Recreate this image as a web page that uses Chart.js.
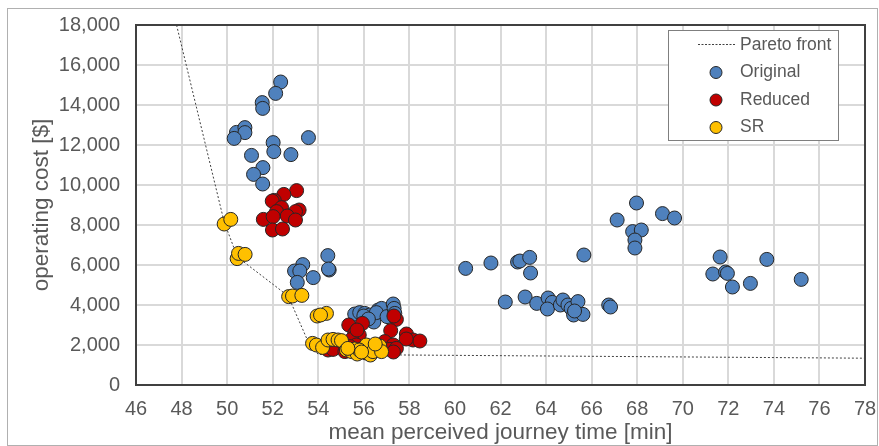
<!DOCTYPE html>
<html>
<head>
<meta charset="utf-8">
<script src="https://cdn.jsdelivr.net/npm/chart.js@4/dist/chart.umd.min.js"></script>
<style>
  body { margin: 0; background: #fff; }
  #wrap { width: 879px; height: 446px; }
</style>
</head>
<body>
<div id="wrap"><canvas id="myChart" width="879" height="446"></canvas></div>
<script>
// journey time [min], operating cost [$]
const originalPts = [
  [52.35,15150],[52.13,14580],[51.54,14120],[51.56,13830],[50.41,12630],[50.78,12870],[50.78,12620],
  [50.31,12330],[52.02,12120],[52.05,11670],[53.57,12370],[52.8,11520],[51.07,11480],[51.57,10870],
  [51.16,10530],[51.56,10050],
  [54.42,6470],[54.48,5750],[54.45,5800],[53.32,6020],[52.96,5700],[53.19,5700],[53.78,5370],[53.08,5130],
  [55.6,3550],[55.82,3620],[56.04,3580],[56.26,3500],[56.44,3150],[56.63,3750],[56.78,3830],[56.55,3620],
  [57.02,3420],[57.29,4050],[57.33,3830],[57.36,3580],[56.0,3450],[56.2,3300],
  [60.47,5830],[61.58,6100],[62.75,6150],[62.85,6200],[63.28,6380],[63.32,5600],[65.66,6500],
  [67.97,9100],[67.12,8250],[69.11,8570],[69.64,8350],[67.8,7670],[68.18,7750],[67.9,7250],[67.9,6850],
  [71.64,6400],[71.32,5550],[71.88,5650],[71.96,5580],[72.18,4900],[72.97,5080],[73.69,6280],[75.2,5280],
  [62.21,4150],[63.08,4400],[63.59,4080],[64.09,4350],[64.27,4130],[64.06,3800],[64.63,4000],[64.74,4250],
  [64.96,4000],[65.1,3830],[65.4,4170],[65.21,3500],[65.62,3530],[65.25,3700],[66.75,4000],[66.83,3900]
];
const reducedPts = [
  [53.05,9720],[52.49,9530],[52.07,9230],[51.98,9200],[52.39,8870],[52.17,8670],[53.16,8750],
  [53.0,8670],[52.64,8450],[53.0,8250],[51.59,8280],[52.02,8420],[51.99,7750],[52.43,7800],
  [55.34,3000],[55.94,3080],[57.43,3280],[57.32,3450],[57.18,2720],[57.87,2550],[58.16,2250],
  [58.46,2200],[57.86,2300],[55.6,2580],[55.8,2500],[55.46,2280],[55.67,2000],[56.92,2170],
  [57.29,2000],[57.14,1780],[57.43,1830],[54.43,1750],[54.65,1780],[56.7,1750],[56.48,1920],
  [55.39,1920],[55.17,1670],[55.7,2750],[57.3,1650],[56.1,1600]
];
const srPts = [
  [49.87,8050],[50.16,8280],[50.44,6320],[50.5,6580],[50.79,6530],[52.7,4420],[52.87,4450],
  [53.28,4480],[53.95,3450],[54.36,3580],[54.1,3500],
  [53.75,2080],[53.92,2000],[54.19,1880],[54.43,2250],[54.65,2280],[54.87,2250],[55.02,2220],
  [55.24,1750],[55.46,1670],[55.6,1800],[55.71,1550],[55.97,1830],[56.11,2000],[56.29,1500],
  [56.4,1670],[56.7,1950],[56.78,1670],[55.8,1750],[55.3,1830],[56.5,2050],[55.9,1650]
];
const paretoPts = [
  [47.78,18000],[49.87,8150],[50.45,6400],[50.85,6050],[52.68,4450],[53.6,2050],[54.0,1530],[78,1340]
];
const xTicks = { min: 46, max: 78, step: 2 };
const yTicks = { min: 0, max: 18000, step: 2000 };

const toXY = pts => pts.map(p => ({ x: p[0], y: p[1] }));
const grey = '#595959';
const fontFamily = '"Liberation Sans", Arial, sans-serif';

// frame round the plot + thin border round the picture
const framePlugin = {
  id: 'frame',
  beforeDatasetsDraw(chart) {
    const { ctx, chartArea: a } = chart;
    ctx.save();
    ctx.strokeStyle = '#404040';
    ctx.lineWidth = 2;
    ctx.strokeRect(a.left, a.top, a.right - a.left, a.bottom - a.top);
    ctx.restore();
  },
  afterDraw(chart) {
    const ctx = chart.ctx;
    ctx.save();
    ctx.strokeStyle = '#b0b0b0';
    ctx.lineWidth = 1;
    ctx.strokeRect(7.5, 8.5, 870, 437);
    ctx.restore();
  }
};

// legend box inside the plot, top right
const legendPlugin = {
  id: 'boxLegend',
  afterDraw(chart) {
    const ctx = chart.ctx;
    const bx = 668, by = 30, bw = 170, bh = 110;
    ctx.save();
    ctx.fillStyle = '#fff';
    ctx.fillRect(bx, by, bw, bh);
    ctx.strokeStyle = '#7f7f7f';
    ctx.lineWidth = 1;
    ctx.strokeRect(bx + 0.5, by + 0.5, bw, bh);
    ctx.font = '17.5px ' + fontFamily;
    ctx.textBaseline = 'middle';
    const rows = [
      { label: 'Pareto front', type: 'line' },
      { label: 'Original', color: '#4f81bd' },
      { label: 'Reduced', color: '#c00000' },
      { label: 'SR', color: '#ffc000' }
    ];
    rows.forEach((r, i) => {
      const y = by + 14 + i * 27.5;
      if (r.type === 'line') {
        ctx.strokeStyle = '#404040';
        ctx.setLineDash([2, 1.5]);
        ctx.beginPath();
        ctx.moveTo(698, y + 0.5);
        ctx.lineTo(736, y + 0.5);
        ctx.stroke();
        ctx.setLineDash([]);
      } else {
        ctx.beginPath();
        ctx.arc(716, y + 1, 6, 0, Math.PI * 2);
        ctx.fillStyle = r.color;
        ctx.fill();
        ctx.strokeStyle = '#262626';
        ctx.stroke();
      }
      ctx.fillStyle = grey;
      ctx.fillText(r.label, 740, y + 1);
    });
    ctx.restore();
  }
};

const pointStyle = (color) => ({
  type: 'scatter',
  backgroundColor: color,
  borderColor: '#262626',
  borderWidth: 1,
  pointRadius: 7,
  pointHoverRadius: 7
});

new Chart(document.getElementById('myChart'), {
  type: 'scatter',
  data: {
    datasets: [
      Object.assign({ label: 'SR', data: toXY(srPts), order: 0 }, pointStyle('#ffc000')),
      Object.assign({ label: 'Reduced', data: toXY(reducedPts), order: 1 }, pointStyle('#c00000')),
      Object.assign({ label: 'Original', data: toXY(originalPts), order: 2 }, pointStyle('#4f81bd')),
      {
        type: 'line',
        label: 'Pareto front',
        data: toXY(paretoPts),
        order: 3,
        borderColor: '#404040',
        borderWidth: 1,
        borderDash: [2, 2],
        pointRadius: 0,
        fill: false,
        tension: 0
      }
    ]
  },
  options: {
    responsive: false,
    animation: false,
    devicePixelRatio: 1,
    layout: { padding: { top: 25, right: 14, left: 0, bottom: 0 } },
    plugins: {
      legend: { display: false },
      tooltip: { enabled: false }
    },
    scales: {
      x: {
        type: 'linear',
        min: xTicks.min,
        max: xTicks.max,
        ticks: {
          stepSize: xTicks.step,
          color: grey,
          font: { family: fontFamily, size: 20 },
          padding: 12,
          maxRotation: 0
        },
        grid: { color: '#d9d9d9', lineWidth: 2, drawTicks: false },
        border: { display: false },
        title: {
          display: true,
          text: 'mean perceived journey time [min]',
          color: grey,
          font: { family: fontFamily, size: 22.5 },
          padding: { top: 0, bottom: 0 }
        },
        afterFit(scale) {
          scale.height = 61;
          scale.paddingLeft = 0;
          scale.paddingRight = 0;
        }
      },
      y: {
        type: 'linear',
        min: yTicks.min,
        max: yTicks.max,
        ticks: {
          stepSize: yTicks.step,
          color: grey,
          font: { family: fontFamily, size: 20 },
          padding: 16
        },
        grid: { color: '#d9d9d9', lineWidth: 2, drawTicks: false },
        border: { display: false },
        title: {
          display: true,
          text: 'operating cost [$]',
          color: grey,
          font: { family: fontFamily, size: 22.5 },
          padding: { top: 28, bottom: 0 }
        },
        afterFit(scale) {
          scale.width = 136;
          scale.paddingTop = 0;
          scale.paddingBottom = 0;
        }
      }
    }
  },
  plugins: [framePlugin, legendPlugin]
});
</script>
</body>
</html>
